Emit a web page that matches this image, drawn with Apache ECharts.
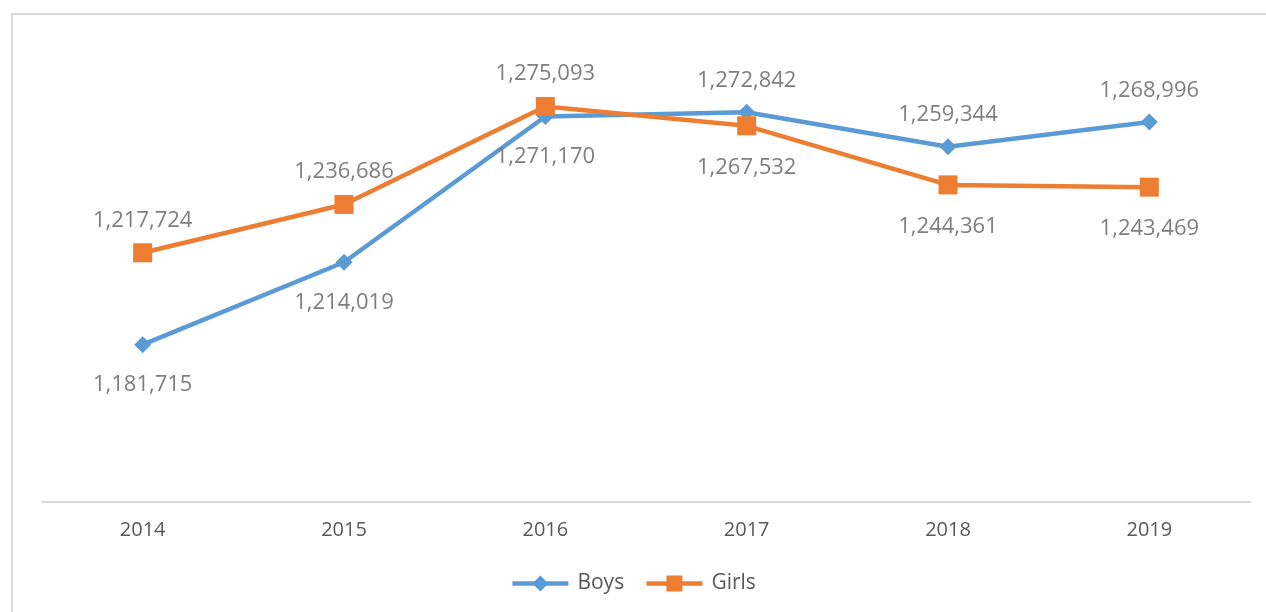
<!DOCTYPE html>
<html>
<head>
<meta charset="UTF-8">
<title>Boys and Girls</title>
<script type="text/javascript" src="https://cdn.jsdelivr.net/npm/echarts@6/dist/echarts.min.js"></script>
<style>
body { margin:0; background:#fff; overflow:hidden; }
#frame { position:absolute; left:11px; top:13px; width:1400px; height:800px; border:2px solid #d9d9d9; }
#main { position:absolute; left:0; top:0; width:1266px; height:612px; }
</style>
</head>
<body>
<div id="frame"></div>
<div id="main"></div>
<script type="text/javascript">
var years = ['2014', '2015', '2016', '2017', '2018', '2019'];
var boys = [1181715, 1214019, 1271170, 1272842, 1259344, 1268996];
var girls = [1217724, 1236686, 1275093, 1267532, 1244361, 1243469];
var boysLabelPos = ['bottom', 'bottom', 'bottom', 'top', 'top', 'top'];
var girlsLabelPos = ['top', 'top', 'top', 'bottom', 'bottom', 'bottom'];

// labels above sit a bit closer than labels below
function withPos(values, pos) {
	return values.map(function (v, i) {
		return { value: v, label: { position: pos[i], distance: pos[i] == 'top' ? 12 : 21 } };
	});
}

var myEcharts = echarts.init(document.getElementById('main'));

var labelStyle = {
	show: true,
	color: '#7f7f7f',
	fontSize: 22,
	fontFamily: 'Open Sans',
	formatter: function (p) { return p.value.toLocaleString('en-US'); }
};

option = {
	backgroundColor: 'transparent',
	animation: false,
	grid: { left: 42, right: 16, top: 43, bottom: 110 },
	legend: {
		bottom: 13,
		left: 'center',
		itemWidth: 56,
		itemHeight: 20,
		itemGap: 20,
		lineStyle: { width: 4.5 },
		textStyle: { color: '#595959', fontSize: 21, fontFamily: 'Open Sans', padding: [0, 0, 0, 4] },
		data: ['Boys', 'Girls']
	},
	xAxis: {
		type: 'category',
		data: years,
		axisLine: { lineStyle: { color: '#d9d9d9', width: 2 } },
		axisTick: { show: false },
		axisLabel: { color: '#595959', fontSize: 20, fontFamily: 'Open Sans', margin: 18 }
	},
	yAxis: {
		type: 'value',
		min: 1120000,
		max: 1300000,
		show: false,
		splitLine: { show: false }
	},
	series: [
		{
			name: 'Boys',
			type: 'line',
			data: withPos(boys, boysLabelPos),
			symbol: 'diamond',
			symbolSize: 17,
			color: '#5b9bd5',
			lineStyle: { width: 4.5 },
			label: labelStyle
		},
		{
			name: 'Girls',
			type: 'line',
			data: withPos(girls, girlsLabelPos),
			symbol: 'rect',
			symbolSize: 19,
			color: '#ed7d31',
			lineStyle: { width: 4.5 },
			label: labelStyle
		}
	]
};

myEcharts.setOption(option);
</script>
</body>
</html>
